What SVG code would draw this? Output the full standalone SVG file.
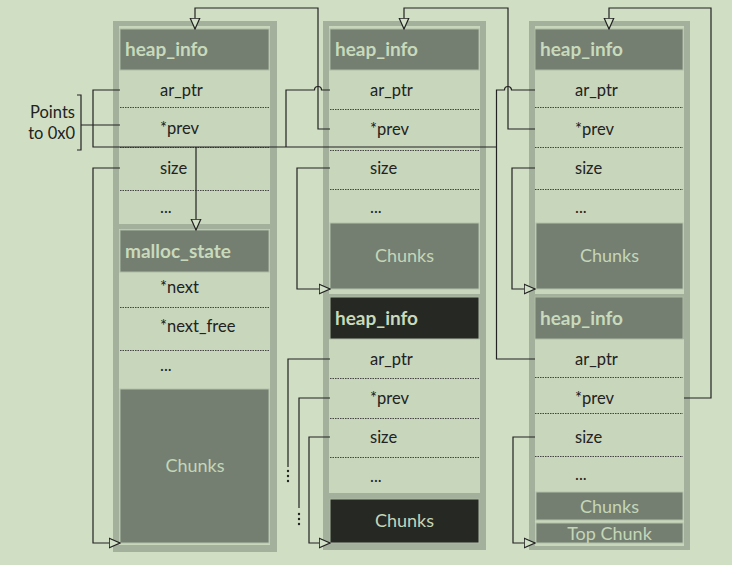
<svg xmlns="http://www.w3.org/2000/svg" width="732" height="565" viewBox="0 0 732 565">
<defs>
<marker id="tri" markerUnits="userSpaceOnUse" markerWidth="12" markerHeight="12" viewBox="0 0 10 10" refX="9.5" refY="5" orient="auto">
<path d="M0.5,1 L9.5,5 L0.5,9 z" fill="#d2e0c8" stroke="#222" stroke-width="1"/>
</marker>
<style>
.frame{fill:#a3b09b}
.panel{fill:#c8d6bc}
.hdr{fill:#747f72;stroke:#aebba4;stroke-width:1}
.blk{fill:#262824;stroke:#aebba4;stroke-width:1}
.chk{fill:#747f72;stroke:#b4c2aa;stroke-width:1}
.sep{stroke:#444;stroke-width:1;stroke-dasharray:1.5 1}
.ht{font-family:Lato,"Liberation Sans",sans-serif;font-size:19px;font-weight:bold;fill:#c8dabb}
.ft{font-family:Lato,"Liberation Sans",sans-serif;font-size:16.5px;fill:#222}
.ct{font-family:Lato,"Liberation Sans",sans-serif;font-size:18px;fill:#c4d6b8;text-anchor:middle}
.ln{fill:none;stroke:#222;stroke-width:1.2}
.dot{fill:#222}
</style>
</defs>
<rect width="732" height="565" fill="#d0dfc4"/>

<g id="col1">
<rect class="frame" x="113" y="21" width="164" height="531"/>
<rect class="panel" x="119" y="26" width="151" height="198"/>
<rect class="panel" x="119" y="229" width="151" height="316"/>
<g id="c1-heapinfo"><rect class="hdr" x="120" y="29" width="149" height="41"/><text class="ht" x="125" y="56">heap_info</text></g>
<text class="ft" x="160" y="96">ar_ptr</text>
<line class="sep" x1="120" y1="107.5" x2="269" y2="107.5"/>
<text class="ft" x="160" y="134">*prev</text>
<line class="sep" x1="120" y1="147.5" x2="269" y2="147.5"/>
<text class="ft" x="160" y="174">size</text>
<line class="sep" x1="120" y1="190.5" x2="269" y2="190.5"/>
<text class="ft" x="160" y="213">...</text>
<g id="c1-mstate"><rect class="hdr" x="120" y="230" width="149" height="42"/><text class="ht" x="125" y="258">malloc_state</text></g>
<text class="ft" x="160" y="293">*next</text>
<line class="sep" x1="120" y1="307.5" x2="269" y2="307.5"/>
<text class="ft" x="160" y="332">*next_free</text>
<line class="sep" x1="120" y1="350.5" x2="269" y2="350.5"/>
<text class="ft" x="160" y="371">...</text>
<g id="c1-chunks"><rect class="chk" x="120" y="389" width="149" height="154"/><text class="ct" x="195" y="472">Chunks</text></g>
</g>

<g id="col2">
<rect class="frame" x="323" y="21" width="163" height="529"/>
<rect class="panel" x="329" y="26" width="151" height="268"/>
<rect class="panel" x="329" y="339" width="151" height="154"/>
<g id="c2-heapinfo"><rect class="hdr" x="330" y="29" width="149" height="41"/><text class="ht" x="335" y="56">heap_info</text></g>
<text class="ft" x="370" y="96">ar_ptr</text>
<line class="sep" x1="330" y1="109.5" x2="479" y2="109.5"/>
<text class="ft" x="370" y="135">*prev</text>
<line class="sep" x1="330" y1="150.5" x2="479" y2="150.5"/>
<text class="ft" x="370" y="174">size</text>
<line class="sep" x1="330" y1="189.5" x2="479" y2="189.5"/>
<text class="ft" x="370" y="213">...</text>
<g id="c2-chunks"><rect class="chk" x="330" y="223" width="149" height="66"/><text class="ct" x="404.5" y="262">Chunks</text></g>
<g id="c2-heapinfo2"><rect class="blk" x="330" y="297" width="149" height="42"/><text class="ht" x="335" y="325">heap_info</text></g>
<text class="ft" x="370" y="365">ar_ptr</text>
<line class="sep" x1="330" y1="378.5" x2="479" y2="378.5"/>
<text class="ft" x="370" y="404">*prev</text>
<line class="sep" x1="330" y1="418.5" x2="479" y2="418.5"/>
<text class="ft" x="370" y="443">size</text>
<line class="sep" x1="330" y1="457.5" x2="479" y2="457.5"/>
<text class="ft" x="370" y="482">...</text>
<g id="c2-chunks2"><rect class="blk" x="330" y="499" width="149" height="44"/><text class="ct" x="404.5" y="527">Chunks</text></g>
</g>

<g id="col3">
<rect class="frame" x="529" y="21" width="161" height="529"/>
<rect class="panel" x="535" y="26" width="149" height="268"/>
<rect class="panel" x="535" y="339" width="149" height="207"/>
<g id="c3-heapinfo"><rect class="hdr" x="535" y="29" width="148" height="41"/><text class="ht" x="540" y="56">heap_info</text></g>
<text class="ft" x="575" y="96">ar_ptr</text>
<line class="sep" x1="535" y1="107.5" x2="683" y2="107.5"/>
<text class="ft" x="575" y="135">*prev</text>
<line class="sep" x1="535" y1="147.5" x2="683" y2="147.5"/>
<text class="ft" x="575" y="174">size</text>
<line class="sep" x1="535" y1="189.5" x2="683" y2="189.5"/>
<text class="ft" x="575" y="213">...</text>
<g id="c3-chunks"><rect class="chk" x="536" y="223" width="147" height="66"/><text class="ct" x="609.5" y="262">Chunks</text></g>
<g id="c3-heapinfo2"><rect class="hdr" x="535" y="297" width="148" height="42"/><text class="ht" x="540" y="325">heap_info</text></g>
<text class="ft" x="575" y="365">ar_ptr</text>
<line class="sep" x1="535" y1="377.5" x2="683" y2="377.5"/>
<text class="ft" x="575" y="404">*prev</text>
<line class="sep" x1="535" y1="413.5" x2="683" y2="413.5"/>
<text class="ft" x="575" y="443">size</text>
<line class="sep" x1="535" y1="456.5" x2="683" y2="456.5"/>
<text class="ft" x="575" y="480">...</text>
<g id="c3-chunks2"><rect class="chk" x="536" y="492" width="147" height="28"/><text class="ct" x="609.5" y="513">Chunks</text></g>
<g id="c3-top"><rect class="chk" x="536" y="523" width="147" height="20"/><text class="ct" x="609.5" y="540">Top Chunk</text></g>
</g>

<g id="note">
<text class="ft" x="75" y="118" text-anchor="end">Points</text>
<text class="ft" x="75" y="139" text-anchor="end">to 0x0</text>
</g>

<g id="connectors">
<path class="ln" d="M330,129 H318 V8 H195 V29" marker-end="url(#tri)"/>
<path class="ln" d="M535,129 H508 V8 H404 V29" marker-end="url(#tri)"/>
<path class="ln" d="M684,398 H711 V8 H609 V29" marker-end="url(#tri)"/>
<path class="ln" d="M120,90 H93 V147 H497"/>
<path class="ln" d="M330,90 H321.5 A3.5,3.5 0 0 0 314.5,90 H286 V147"/>
<path class="ln" d="M535,90 H511.5 A3.5,3.5 0 0 0 504.5,90 H496.5 V359 H535"/>
<path class="ln" d="M196,147 V230" marker-end="url(#tri)"/>
<path class="ln" d="M330,359 H288 V467"/>
<circle class="dot" cx="288" cy="471" r="1.2"/><circle class="dot" cx="288" cy="476" r="1.2"/><circle class="dot" cx="288" cy="481" r="1.2"/>
<path class="ln" d="M330,398 H299 V508"/>
<circle class="dot" cx="299" cy="514" r="1.2"/><circle class="dot" cx="299" cy="519" r="1.2"/><circle class="dot" cx="299" cy="524" r="1.2"/>
<path class="ln" d="M330,437 H309 V543 H330" marker-end="url(#tri)"/>
<path class="ln" d="M120,168 H93 V543 H120" marker-end="url(#tri)"/>
<path class="ln" d="M330,168 H297 V289 H330" marker-end="url(#tri)"/>
<path class="ln" d="M535,168 H512 V289 H535" marker-end="url(#tri)"/>
<path class="ln" d="M535,437 H513 V543 H535" marker-end="url(#tri)"/>
<path class="ln" d="M120,125 H81"/>
<path class="ln" d="M77,95 H81 V150 H77"/>
</g>
</svg>
